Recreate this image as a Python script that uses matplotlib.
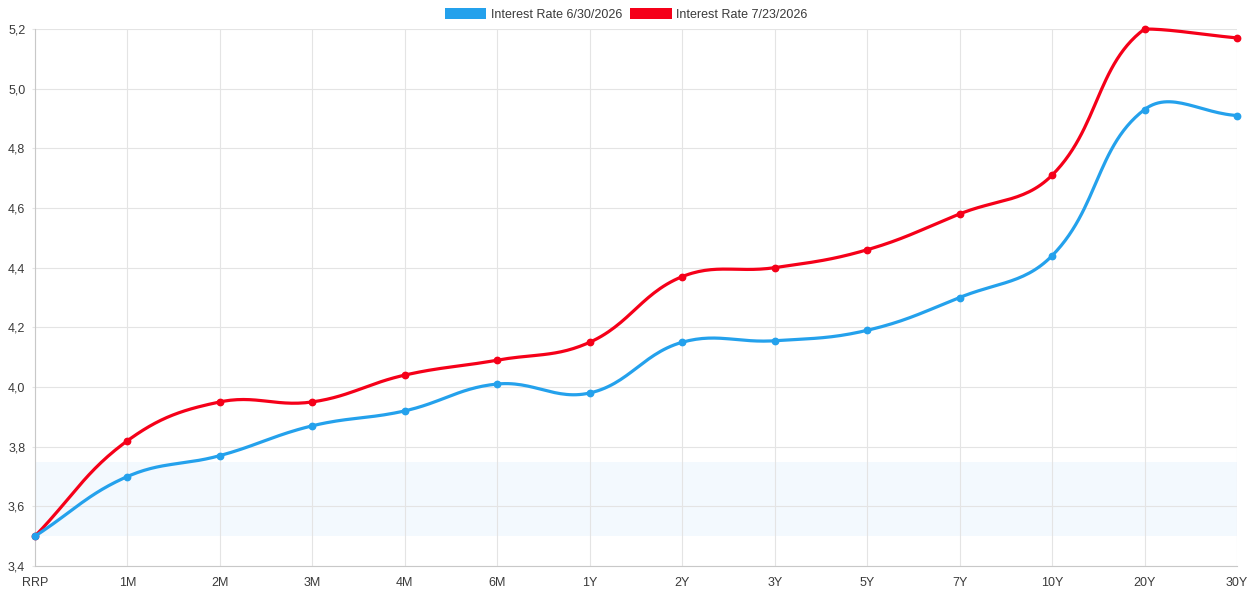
import numpy as np
import matplotlib
matplotlib.use("Agg")
import matplotlib.pyplot as plt
from matplotlib.patches import Patch

plt.rcParams['font.family'] = ['Liberation Sans', 'DejaVu Sans']

# данные
tenors = ['RRP', '1M', '2M', '3M', '4M', '6M', '1Y', '2Y', '3Y', '5Y', '7Y', '10Y', '20Y', '30Y']
rate_jun = [3.50, 3.70, 3.77, 3.87, 3.92, 4.01, 3.98, 4.15, 4.155, 4.19, 4.30, 4.44, 4.93, 4.91]
rate_jul = [3.50, 3.82, 3.95, 3.95, 4.04, 4.09, 4.15, 4.37, 4.40, 4.46, 4.58, 4.71, 5.20, 5.17]
label_jun = 'Interest Rate 6/30/2026'
label_jul = 'Interest Rate 7/23/2026'
band = (3.5, 3.75)

col_jun = '#24a1ec'
col_jul = '#f50019'
grid_col = '#e4e4e4'
text_col = '#3a3a3a'

W, H = 1253, 602
fig = plt.figure(figsize=(W / 100, H / 100), dpi=100)
left, right, top, bottom = 35, 1237, 29, 566
ax = fig.add_axes([left / W, 1 - bottom / H, (right - left) / W, (bottom - top) / H])
ymin, ymax = 3.4, 5.2
ax.set_xlim(0, len(tenors) - 1)
ax.set_ylim(ymin, ymax)

# px per unit, для сглаживания как в Chart.js (tension 0.4)
sx = (right - left) / (len(tenors) - 1)
sy = (bottom - top) / (ymax - ymin)


def smooth(vals, t=0.4, n=30):
    px = np.arange(len(vals)) * sx
    py = (ymax - np.array(vals)) * sy  # экранные координаты
    cp_prev, cp_next = [], []
    for i in range(len(vals)):
        p0 = i - 1 if i > 0 else i
        p2 = i + 1 if i < len(vals) - 1 else i
        d01 = np.hypot(px[i] - px[p0], py[i] - py[p0])
        d12 = np.hypot(px[p2] - px[i], py[p2] - py[i])
        tot = d01 + d12
        s01 = d01 / tot if tot else 0
        s12 = d12 / tot if tot else 0
        fa, fb = t * s01, t * s12
        dx, dy = px[p2] - px[p0], py[p2] - py[p0]
        cp_prev.append((px[i] - fa * dx, np.clip(py[i] - fa * dy, 0, (ymax - ymin) * sy)))
        cp_next.append((px[i] + fb * dx, np.clip(py[i] + fb * dy, 0, (ymax - ymin) * sy)))
    xs, ys = [], []
    tt = np.linspace(0, 1, n)
    for i in range(len(vals) - 1):
        P0 = np.array([px[i], py[i]])
        P1 = np.array(cp_next[i])
        P2 = np.array(cp_prev[i + 1])
        P3 = np.array([px[i + 1], py[i + 1]])
        seg = ((1 - tt) ** 3)[:, None] * P0 + (3 * (1 - tt) ** 2 * tt)[:, None] * P1 \
            + (3 * (1 - tt) * tt ** 2)[:, None] * P2 + (tt ** 3)[:, None] * P3
        xs.extend(seg[:, 0])
        ys.extend(seg[:, 1])
    xs = np.array(xs) / sx
    ys = ymax - np.array(ys) / sy
    return xs, ys


ax.axhspan(band[0], band[1], color='#f3f9fe', zorder=0, lw=0)

# первая серия рисуется поверх, как в Chart.js
for vals, col, z in [(rate_jul, col_jul, 3), (rate_jun, col_jun, 5)]:
    xs, ys = smooth(vals)
    ax.plot(xs, ys, color=col, lw=2.3, zorder=z, clip_on=False, solid_capstyle='round')
    ax.plot(range(len(vals)), vals, 'o', color=col, ms=4.6, zorder=z + 1, clip_on=False)

ax.set_xticks(range(len(tenors)))
ax.set_xticklabels(tenors)
yt = np.arange(3.4, 5.21, 0.2)
ax.set_yticks(yt)
ax.set_yticklabels([f'{v:.1f}'.replace('.', ',') for v in yt])
ax.grid(True, color=grid_col, lw=0.8)
ax.set_axisbelow(True)
ax.tick_params(axis='x', length=0, labelsize=9, labelcolor=text_col, pad=8)
ax.tick_params(axis='y', length=2, color=grid_col, labelsize=9, labelcolor=text_col, pad=5)
for s in ['top', 'right']:
    ax.spines[s].set_visible(False)
for s in ['left', 'bottom']:
    ax.spines[s].set_color('#c8c8c8')
    ax.spines[s].set_linewidth(0.8)

handles = [Patch(facecolor=col_jun, label=label_jun), Patch(facecolor=col_jul, label=label_jul)]
fig.legend(handles=handles, loc='upper center', bbox_to_anchor=(0.5, 1.005), ncol=2, frameon=False,
           fontsize=9, handlelength=3.3, handleheight=1.0, columnspacing=0.6, handletextpad=0.4,
           labelcolor=text_col)

fig.savefig('out.png', dpi=100, facecolor='white')
